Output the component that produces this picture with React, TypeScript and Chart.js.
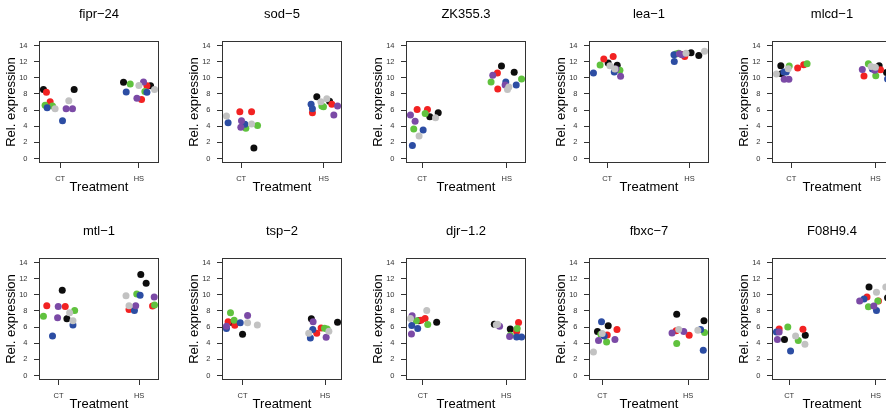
import React, { useEffect, useRef } from 'react';
import { Chart, registerables } from 'chart.js';

Chart.register(...registerables);
Chart.defaults.font.family = "'Liberation Sans', Arial, Helvetica, sans-serif";

// ---------- data ----------
const genes = ['fipr−24', 'sod−5', 'ZK355.3', 'lea−1', 'mlcd−1', 'mtl−1', 'tsp−2', 'djr−1.2', 'fbxc−7', 'F08H9.4'];
const groups = ['CT', 'HS'];
const yTicks = [0, 2, 4, 6, 8, 10, 12, 14];
// colour of each replicate, same order for CT (first 12) and HS (last 12)
const replicateColor = ['black', 'black', 'red', 'red', 'green', 'green', 'blue', 'blue', 'purple', 'purple', 'grey', 'grey'];

// jittered x (CT = 1, HS = 2) and relative expression
const fipr24X = [0.788, 1.178, 0.826, 0.873, 0.809, 0.903, 0.835, 1.03, 1.076, 1.157, 0.936, 1.11, 1.805, 2.148, 2.034, 2.102, 1.89, 2.076, 1.839, 2.102, 1.975, 2.059, 2.0, 2.199];
const fipr24Y = [8.54, 8.54, 8.21, 7.02, 6.61, 6.49, 6.28, 4.68, 6.16, 6.16, 6.16, 7.14, 9.44, 9.0, 7.3, 9.0, 9.24, 8.3, 8.25, 8.2, 7.47, 9.48, 9.03, 8.54];
const sod5X = [1.154, null, 0.984, 1.126, 1.057, 1.198, 0.842, 1.045, 1.004, 0.996, 0.822, 1.126, 1.915, 2.069, 1.862, 2.097, 1.976, 1.996, 1.846, 1.862, 2.166, 2.121, 1.964, 2.036];
const sod5Y = [1.31, null, 5.79, 5.79, 3.74, 4.1, 4.43, 4.23, 4.68, 3.86, 5.25, 4.27, 7.64, 7.1, 5.67, 6.73, 6.49, 6.4, 6.73, 6.16, 6.49, 5.38, 7.02, 7.39];
const zk3553X = [1.091, 1.19, 0.941, 1.063, 0.901, 1.036, 0.885, 1.012, 0.862, 0.917, 0.964, 1.158, 1.937, 2.087, 1.889, 1.893, 1.814, 2.174, 1.988, 2.111, 1.834, 1.98, 2.008, 2.024];
const zk3553Y = [5.17, 5.67, 6.08, 6.08, 3.65, 5.58, 1.6, 3.53, 5.38, 4.6, 2.79, 5.05, 11.45, 10.7, 10.6, 8.62, 9.48, 9.85, 9.48, 9.11, 10.3, 9.11, 8.54, 8.87];
const lea1X = [1.012, 1.122, 0.959, 1.073, 0.914, 1.155, 0.833, 1.086, 1.106, 1.163, 1.033, 1.094, 2.02, 2.114, 1.943, 1.918, 1.837, 1.869, 1.816, 1.812, 1.878, 1.91, 1.959, 2.184];
const lea1Y = [11.82, 11.54, 12.32, 12.64, 11.58, 10.92, 10.59, 10.71, 11.08, 10.18, 11.5, 11.1, 13.1, 12.77, 12.64, 12.9, 12.95, 13.05, 12.03, 12.85, 12.97, 12.85, 13.05, 13.3];
const mlcd1X = [0.876, 0.884, 1.076, 1.148, 0.976, 1.188, 0.912, 0.94, 0.916, 0.972, 0.824, 0.964, 2.044, 2.132, 1.864, 2.06, 1.916, 2.004, 1.964, 2.144, 1.844, 1.992, 1.948, 2.0];
const mlcd1Y = [11.49, 10.51, 11.21, 11.62, 11.45, 11.74, 10.71, 10.71, 9.81, 9.81, 10.47, 11.12, 11.49, 10.67, 10.22, 11.0, 11.74, 10.26, 11.08, 9.85, 11.04, 10.92, 11.41, 11.3];
const mtl1X = [1.046, 1.104, 0.854, 1.083, 0.8125, 1.2, 0.925, 1.179, 0.996, 0.988, 1.1375, 1.179, 2.021, 2.0875, 1.875, 2.167, 1.971, 2.192, 2.0125, 1.942, 1.958, 2.1875, 1.8375, 1.875];
const mtl1Y = [10.55, 7.02, 8.64, 8.56, 7.35, 8.06, 4.9, 6.27, 8.56, 7.15, 7.77, 6.77, 12.5, 11.42, 8.18, 8.6, 10.1, 8.72, 9.93, 8.06, 8.64, 9.72, 9.89, 8.64];
const tsp2X = [0.874, 1.0, 0.825, 0.906, 0.854, 0.898, 0.805, 0.972, 0.805, 1.061, 1.061, 1.179, 1.833, 2.15, 1.898, 1.951, 1.992, 2.024, 1.821, 1.85, 1.854, 2.012, 1.801, 2.045];
const tsp2Y = [6.56, 5.1, 6.65, 6.23, 7.77, 6.85, 5.82, 6.52, 6.1, 7.44, 6.52, 6.27, 7.02, 6.6, 5.23, 5.9, 5.86, 5.77, 4.65, 5.69, 6.65, 4.74, 5.23, 5.48];
const djr12X = [0.952, 1.167, 0.98, 1.028, 0.924, 1.06, 0.869, 0.94, 0.873, 0.865, 0.853, 1.048, 1.857, 2.048, 2.124, 2.147, 2.048, 2.131, 2.124, 2.183, 1.92, 2.04, 1.896, 1.88];
const djr12Y = [6.77, 6.6, 6.85, 7.06, 6.77, 6.31, 6.19, 5.82, 7.4, 5.15, 7.06, 8.06, 6.36, 5.77, 5.44, 6.56, 5.0, 5.82, 4.78, 4.78, 6.1, 4.82, 6.36, 6.3];
const fbxc7X = [0.945, 1.07, 1.059, 1.172, 0.984, 1.051, 0.992, 1.023, 0.957, 1.148, 0.898, 1.0, 1.867, 2.184, 1.86, 2.012, 1.867, 2.191, 2.145, 2.176, 1.8125, 1.949, 1.89, 2.113];
const fbxc7Y = [5.44, 6.15, 5.03, 5.69, 5.11, 4.15, 6.65, 4.9, 4.32, 4.45, 2.91, 5.2, 7.6, 6.77, 5.53, 4.99, 3.95, 5.32, 5.69, 3.12, 5.28, 5.44, 5.69, 5.61];
const f08h94X = [0.946, 1.186, 0.884, 1.159, 0.984, 1.105, 0.853, 1.016, 0.864, 0.884, 1.074, 1.182, 1.922, 2.136, 1.899, 2.031, 1.915, 2.023, 1.864, 2.008, 1.814, 1.977, 2.008, 2.116];
const f08h94Y = [4.45, 4.99, 5.77, 5.73, 6.02, 4.32, 5.4, 3.03, 4.45, 5.4, 4.9, 3.86, 10.97, 9.64, 9.72, 9.22, 8.52, 9.22, 9.47, 8.06, 9.22, 8.6, 10.3, 10.97];

const geneX = [fipr24X, sod5X, zk3553X, lea1X, mlcd1X, mtl1X, tsp2X, djr12X, fbxc7X, f08h94X];
const geneY = [fipr24Y, sod5Y, zk3553Y, lea1Y, mlcd1Y, mtl1Y, tsp2Y, djr12Y, fbxc7Y, f08h94Y];

// ---------- styles ----------
const palette: Record<string, string> = {
  grey: '#c2c2c2',
  purple: '#7b4aa6',
  blue: '#2c4da3',
  green: '#60c23e',
  red: '#f22222',
  black: '#0d0d0d',
};
const drawOrder = ['grey', 'purple', 'blue', 'green', 'red', 'black'];

const PANEL_W = 198;
const PANEL_H = 217;
const COL_STEP = 183.3;
const ROW_STEP = 217;

const boxPlugin = {
  id: 'rbox',
  afterDraw(chart: any) {
    const { ctx, chartArea: a } = chart;
    ctx.save();
    ctx.strokeStyle = '#333';
    ctx.lineWidth = 1;
    const l = Math.round(a.left) + 0.5;
    const t = Math.round(a.top) + 0.5;
    const r = Math.round(a.right) - 0.5;
    const b = Math.round(a.bottom) - 0.5;
    ctx.strokeRect(l, t, r - l, b - t);
    ctx.restore();
  },
};

function buildConfig(i: number): any {
  const xs = geneX[i];
  const ys = geneY[i];
  const present = xs.filter((v) => v !== null) as number[];
  const lo = Math.min(...present);
  const hi = Math.max(...present);
  const ext = (hi - lo) * 0.04;
  const yExt = (yTicks[yTicks.length - 1] - yTicks[0]) * 0.04;

  const datasets = drawOrder.map((col) => {
    const pts: { x: number; y: number }[] = [];
    xs.forEach((x, k) => {
      const y = ys[k];
      if (x === null || y === null) return;
      if (replicateColor[k % 12] === col) pts.push({ x: x as number, y: y as number });
    });
    return {
      label: col,
      data: pts,
      backgroundColor: palette[col],
      borderColor: palette[col],
      pointRadius: 3.5,
      pointBorderWidth: 0,
      pointHoverRadius: 3.5,
    };
  });

  return {
    type: 'scatter',
    data: { datasets },
    options: {
      responsive: false,
      animation: false,
      devicePixelRatio: 1,
      layout: { padding: 0 },
      events: [],
      plugins: {
        legend: { display: false },
        tooltip: { enabled: false },
        title: {
          display: true,
          text: genes[i],
          color: '#000',
          font: { size: 13, weight: 'normal' },
          padding: { top: 7, bottom: 18.4 },
        },
      },
      scales: {
        x: {
          type: 'linear',
          position: 'bottom',
          min: lo - ext,
          max: hi + ext,
          afterBuildTicks: (s: any) => {
            s.ticks = groups.map((_, k) => ({ value: k + 1 }));
          },
          afterFit: (s: any) => {
            s.height = 54;
          },
          ticks: {
            callback: (v: any) => groups[Math.round(Number(v)) - 1] ?? '',
            font: { size: 7.5 },
            color: '#333',
            padding: 6,
            autoSkip: false,
            maxRotation: 0,
          },
          grid: { drawOnChartArea: false, drawTicks: true, tickLength: 5, color: '#333', tickColor: '#333' },
          border: { display: false },
          title: {
            display: true,
            text: 'Treatment',
            color: '#000',
            font: { size: 13 },
            padding: { top: 0, bottom: 22 },
          },
        },
        y: {
          type: 'linear',
          position: 'left',
          min: yTicks[0] - yExt,
          max: yTicks[yTicks.length - 1] + yExt,
          afterBuildTicks: (s: any) => {
            s.ticks = yTicks.map((value) => ({ value }));
          },
          afterFit: (s: any) => {
            s.width = 39;
          },
          ticks: { font: { size: 7.5 }, color: '#333', padding: 6.5 },
          grid: { drawOnChartArea: false, drawTicks: true, tickLength: 5, color: '#333', tickColor: '#333' },
          border: { display: false },
          title: {
            display: true,
            text: 'Rel. expression',
            color: '#000',
            font: { size: 13 },
            padding: { top: 3.2, bottom: 0 },
          },
        },
        yR: {
          type: 'linear',
          position: 'right',
          display: true,
          ticks: { display: false },
          grid: { display: false },
          border: { display: false },
          afterFit: (s: any) => {
            s.width = 39;
          },
        },
      },
    },
    plugins: [boxPlugin],
  };
}

export default function App() {
  const refs = useRef<(HTMLCanvasElement | null)[]>([]);

  useEffect(() => {
    const charts = genes.map((_, i) => new Chart(refs.current[i] as HTMLCanvasElement, buildConfig(i)));
    return () => charts.forEach((c) => c.destroy());
  }, []);

  return (
    <div
      style={{
        position: 'fixed',
        left: 0,
        top: 0,
        width: 886,
        height: 414,
        overflow: 'hidden',
        background: '#fff',
      }}
    >
      {genes.map((g, i) => (
        <canvas
          key={g}
          ref={(el) => {
            refs.current[i] = el;
          }}
          width={PANEL_W}
          height={PANEL_H}
          style={{
            position: 'absolute',
            left: Math.round((i % 5) * COL_STEP),
            top: Math.floor(i / 5) * ROW_STEP,
            width: PANEL_W,
            height: PANEL_H,
          }}
        />
      ))}
    </div>
  );
}
